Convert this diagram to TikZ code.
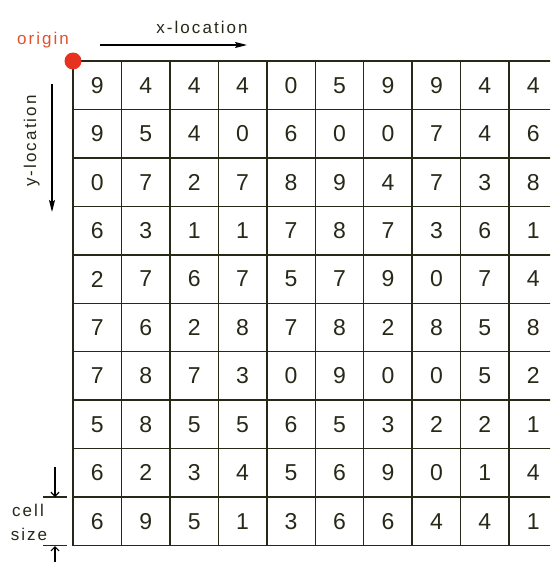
\documentclass[tikz,border=0pt]{standalone}
\usepackage{fontspec}
\setmainfont{Liberation Sans}
\usetikzlibrary{arrows.meta}
\definecolor{gridc}{RGB}{40,40,24}
\definecolor{origc}{RGB}{226,80,45}
\definecolor{dotc}{RGB}{230,50,30}
\begin{document}
\begin{tikzpicture}[x=1pt,y=-1pt,
  digit/.style={font=\fontsize{23}{23}\selectfont, text=gridc, inner sep=0pt},
  lab/.style={font=\fontsize{17}{17}\selectfont\addfontfeatures{LetterSpace=12}, text=gridc, inner sep=0pt},
  gridline/.style={draw=gridc, line width=1.5pt},
  arr/.style={draw=black, line width=1.2pt},
  bigtip/.style={-{Stealth[length=12pt,width=6pt,inset=2pt]}},
  smalltip/.style={-{Straight Barb[length=4pt,width=8pt]}}]
\useasboundingbox (0,0) rectangle (550,562);
\clip (0,0) rectangle (550,562);
\fill[white] (0,0) rectangle (550,562);
% grid lines
\foreach \i in {0,...,10} {
  \draw[gridline] (73+48.45*\i,61) -- (73+48.45*\i,545.5);
  \draw[gridline] (73,61+48.45*\i) -- (560,61+48.45*\i);
}
% digits
\foreach [count=\r] \row in {
  {9,4,4,4,0,5,9,9,4,4},
  {9,5,4,0,6,0,0,7,4,6},
  {0,7,2,7,8,9,4,7,3,8},
  {6,3,1,1,7,8,7,3,6,1},
  {2,7,6,7,5,7,9,0,7,4},
  {7,6,2,8,7,8,2,8,5,8},
  {7,8,7,3,0,9,0,0,5,2},
  {5,8,5,5,6,5,3,2,2,1},
  {6,2,3,4,5,6,9,0,1,4},
  {6,9,5,1,3,6,6,4,4,1}} {
  \foreach [count=\c] \v in \row {
    \node[digit] (d\r-\c) at (73+48.45*\c-24.2, 61+48.45*\r-24.2) {\v};
  }
}
% origin
\node[circle, fill=dotc, minimum size=17pt, inner sep=0pt] (o) at (73,61) {};
\node[lab, text=origc] (origin) at (43,40) {origin};
% x-location
\node[lab, anchor=base] (xl) at (202,33) {x-location};
\coordinate (xa) at (100,45);
\coordinate (xb) at (247,45);
\draw[arr, bigtip] (xa) -- (xb);
% y-location
\node[lab, anchor=base, rotate=90] (yl) at (36,141) {y-location};
\coordinate (ya) at (52,84);
\coordinate (yb) at (52,212);
\draw[arr, bigtip] (ya) -- (yb);
% cell size
\node[lab] (cell) at (28,510) {cell};
\node[lab] (size) at (29,534) {size};
\coordinate (t1a) at (43,497);
\coordinate (t1b) at (67,497);
\coordinate (t2a) at (43,545.5);
\coordinate (t2b) at (67,545.5);
\draw[gridline, line width=1.2pt] (t1a) -- (t1b);
\draw[gridline, line width=1.2pt] (t2a) -- (t2b);
\coordinate (c1) at (55,467);
\coordinate (c1e) at (55,497);
\coordinate (c2) at (55,562);
\coordinate (c2e) at (55,546);
\draw[arr, smalltip] (c1) -- (c1e);
\draw[arr, smalltip] (c2) -- (c2e);
\end{tikzpicture}
\end{document}
